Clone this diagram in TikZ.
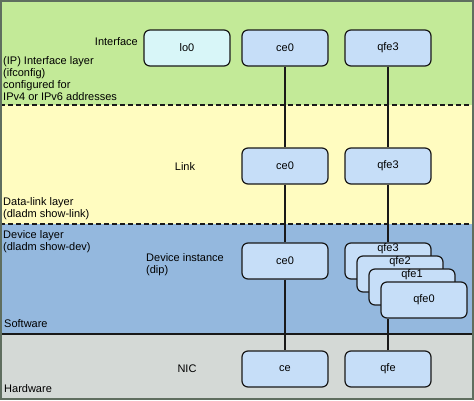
\documentclass[tikz,border=0pt]{standalone}
\usepackage{fontspec}
\setmainfont{Liberation Sans}
\usetikzlibrary{positioning}
\definecolor{ifLayerColor}{RGB}{195, 234, 152}
\definecolor{linkLayerColor}{RGB}{255, 252, 192}
\definecolor{devLayerColor}{RGB}{148, 184, 222}
\definecolor{hwLayerColor}{RGB}{212, 217, 214}
\definecolor{boxColor}{RGB}{198, 222, 248}
\definecolor{loopColor}{RGB}{216, 246, 248}
\definecolor{frameColor}{RGB}{95, 110, 95}

\begin{document}
\begin{tikzpicture}[
		x=1pt, y=-1pt,
		% Define styles for nodes
		nicbox/.style={
				draw=black!90,
				rectangle,
				minimum width=86pt,
				minimum height=36pt,
				rounded corners=6pt,
				line width=1.2pt,
				fill=#1,
				font=\fontsize{11}{12}\selectfont
			},
		nicbox/.default=boxColor,
		layertext/.style={
				font=\fontsize{11}{12}\selectfont,
				align=left,
				inner sep=0pt
			},
		wire/.style={
				line width=1.1pt,
				draw=black!90
			},
		divider/.style={
				line width=1.2pt,
				draw=black!90
			}
	]

	% Layer backgrounds
	\useasboundingbox (0,0) rectangle (474,400);
	\fill[ifLayerColor] (0,0) rectangle (474,105);
	\fill[linkLayerColor] (0,105) rectangle (474,224);
	\fill[devLayerColor] (0,224) rectangle (474,334);
	\fill[hwLayerColor] (0,334) rectangle (474,400);
	\draw[divider, dashed, dash pattern=on 5pt off 3pt] (0,105) -- (474,105);
	\draw[divider, dashed, dash pattern=on 5pt off 3pt] (0,224) -- (474,224);
	\draw[divider] (0,334) -- (474,334);
	\draw[frameColor, line width=2pt] (1,1) rectangle (473,399);

	% Column positions
	\def\colce{285}
	\def\colqfe{388}

	% Interface layer
	\node[layertext, anchor=east] (iflabel) at (138,42) {Interface};
	\node[layertext, anchor=west] (ifdesc) at (3,79) {(IP) Interface layer\\(ifconfig)\\configured for\\IPv4 or IPv6 addresses};
	\node[nicbox=loopColor] (iflo0) at (187,48) {lo0};
	\node[nicbox] (ifce0) at (\colce,48) {ce0};
	\node[nicbox] (ifqfe3) at (\colqfe,48) {qfe3};

	% Data-link layer
	\node[layertext] (linklabel) at (185,167) {Link};
	\node[layertext, anchor=west] (linkdesc) at (3,209) {Data-link layer\\(dladm show-link)};
	\node[nicbox] (lkce0) at (\colce,166) {ce0};
	\node[nicbox] (lkqfe3) at (\colqfe,166) {qfe3};

	% Device layer
	\node[layertext, anchor=west] (devdesc) at (3,242) {Device layer\\(dladm show-dev)};
	\node[layertext, anchor=west] (devlabel) at (146,265) {Device instance\\(dip)};
	\node[layertext, anchor=west] (swlabel) at (4,324) {Software};
	\node[nicbox] (dvce0) at (\colce,261) {ce0};
	\node[nicbox, label={[anchor=north, inner sep=1pt, font=\fontsize{11}{12}\selectfont]north:qfe3}] (dvqfe3) at (\colqfe,261) {};
	\node[nicbox, label={[anchor=north, inner sep=1pt, font=\fontsize{11}{12}\selectfont]north:qfe2}] (dvqfe2) at (\colqfe+12,274) {};
	\node[nicbox, label={[anchor=north, inner sep=1pt, font=\fontsize{11}{12}\selectfont]north:qfe1}] (dvqfe1) at (\colqfe+24,287) {};
	\node[nicbox] (dvqfe0) at (\colqfe+36,300) {qfe0};

	% Hardware layer
	\node[layertext] (niclabel) at (187,369) {NIC};
	\node[layertext, anchor=west] (hwlabel) at (4,389) {Hardware};
	\node[nicbox] (nicce) at (\colce,369) {ce};
	\node[nicbox] (nicqfe) at (\colqfe,369) {qfe};

	% Connections between layers
	\draw[wire] (ifce0) -- (lkce0);
	\draw[wire] (lkce0) -- (dvce0);
	\draw[wire] (dvce0) -- (nicce);
	\draw[wire] (ifqfe3) -- (lkqfe3);
	\draw[wire] (lkqfe3) -- (dvqfe3);
	\draw[wire] (nicqfe) -- (nicqfe |- dvqfe0.south);

\end{tikzpicture}
\end{document}
